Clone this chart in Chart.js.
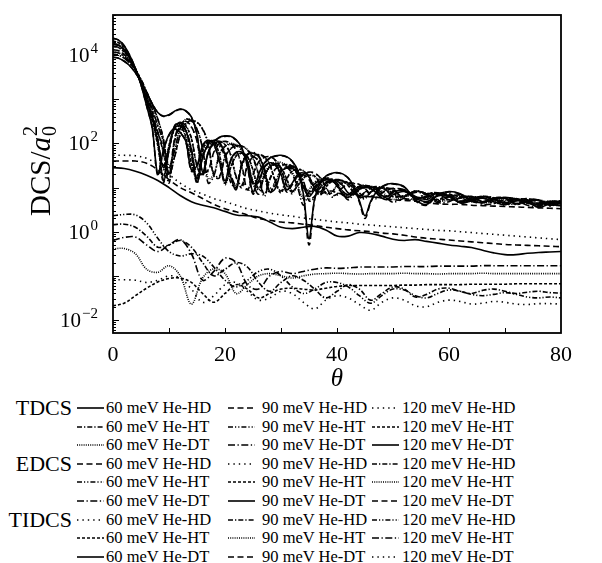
<!DOCTYPE html>
<html>
<head>
<meta charset="utf-8">
<script src="https://cdn.jsdelivr.net/npm/chart.js@4.4.1/dist/chart.umd.min.js"></script>
<style>
  body { margin: 0; background: #fff; }
  #wrap { position: relative; width: 602px; height: 563px; font-family: 'Liberation Serif', 'DejaVu Serif', serif; color: #000; }
  #grafico { position: absolute; left: 0; top: 0; }
  .grupo { position: absolute; width: 72px; text-align: right; font-size: 22px; line-height: 24px; white-space: nowrap; }
  .item { position: absolute; font-size: 16.5px; line-height: 20px; white-space: nowrap; }
  .amostra { position: absolute; }
</style>
</head>
<body>
<div id="wrap">
  <canvas id="grafico" width="602" height="395"></canvas>
  <div id="legenda"></div>
</div>
<script>
// angulos (graus)
const thetaFine = [0,1,2,3,4,5,6,7,8,9,10,11,12,13,14,15,16,17,18,19,20,21,22,23,24,25,26,27,28,29,30,
  31,32,33,34,35,36,37,38,39,40,41,42,43,44,45,46,47,48,49,50,
  52,54,56,58,60,62,64,66,68,70,72,74,76,78,80];
const thetaStep2 = [0,2,4,6,8,10,12,14,16,18,20,22,24,26,28,30,32,34,36,38,40,
  42,44,46,48,50,52,54,56,58,60,62,64,66,68,70,72,74,76,78,80];

const tdcs60HD = [3.95,3.93,3.86,3.76,3.6,3.4,3.15,2.9,2.7,2.62,
  2.65,2.73,2.78,2.74,2.6,2.2,1.35,1.8,2.03,2.14,
  2.17,2.16,2.08,1.9,1.5,0.9,1.3,1.55,1.67,1.72,
  1.73,1.7,1.6,1.38,0.85,-0.16,0.75,1.1,1.26,1.32,
  1.34,1.31,1.22,1.02,0.7,0.36,0.68,0.9,1.02,1.08,
  1.09,
  1.02,0.72,0.62,0.84,0.91,0.86,0.7,0.66,0.74,0.78,0.74,0.66,0.65,0.68,0.68];
const tdcs60HT = [4.02,4.0,3.93,3.82,3.66,3.45,3.17,2.88,2.55,2.1,
  1.3,1.7,2.2,2.45,2.52,2.48,2.33,2.0,1.3,1.25,
  1.7,1.88,1.95,1.94,1.86,1.68,1.3,0.85,1.2,1.42,
  1.5,1.52,1.5,1.4,1.15,0.75,0.8,1.0,1.12,1.17,
  1.18,1.16,1.1,0.98,0.8,0.78,0.9,0.97,1.0,0.99,
  0.95,
  0.76,0.75,0.86,0.88,0.8,0.68,0.74,0.8,0.77,0.66,0.64,0.73,0.72,0.62,0.6];
const tdcs60DT = [4.07,4.05,3.97,3.85,3.67,3.43,3.12,2.78,2.4,2.05,
  1.5,1.85,2.35,2.55,2.52,2.33,1.9,1.2,1.3,1.75,
  1.95,2.0,1.97,1.85,1.6,1.15,0.95,1.3,1.5,1.57,
  1.57,1.5,1.35,1.05,0.75,0.95,1.12,1.2,1.22,1.19,
  1.1,0.92,0.8,0.9,0.99,1.03,1.03,1.0,0.92,0.8,
  0.73,
  0.8,0.92,0.86,0.7,0.72,0.82,0.78,0.66,0.68,0.76,0.74,0.64,0.61,0.68,0.7];
const tdcs90HD = [4.12,4.1,4.01,3.87,3.67,3.41,3.08,2.7,2.25,1.9,
  1.3,2.1,2.45,2.5,2.38,2.05,1.35,1.4,1.8,2.0,
  2.05,2.0,1.85,1.5,0.95,1.3,1.58,1.68,1.7,1.62,
  1.42,1.05,0.9,1.15,1.3,1.35,1.33,1.22,1.02,0.82,
  0.85,1.0,1.08,1.1,1.07,0.98,0.84,0.78,0.88,0.95,
  0.98,
  0.95,0.76,0.78,0.88,0.82,0.67,0.74,0.8,0.74,0.62,0.7,0.75,0.68,0.6,0.66];
const tdcs90HT = [4.2,4.17,4.07,3.91,3.68,3.38,3.02,2.62,2.1,1.15,
  1.85,2.35,2.48,2.4,2.12,1.5,1.3,1.8,2.0,2.05,
  1.98,1.75,1.25,1.05,1.5,1.7,1.75,1.7,1.52,1.15,
  0.92,1.2,1.38,1.42,1.38,1.25,1.0,0.86,1.02,1.14,
  1.18,1.15,1.05,0.9,0.8,0.9,0.99,1.02,1.0,0.92,
  0.8,
  0.82,0.92,0.86,0.7,0.8,0.84,0.74,0.68,0.77,0.76,0.63,0.68,0.72,0.65,0.6];
const tdcs90DT = [4.25,4.22,4.11,3.93,3.68,3.36,2.98,2.58,2.05,1.5,
  1.9,2.4,2.47,2.3,1.88,1.2,1.7,2.0,2.08,2.02,
  1.78,1.3,1.05,1.55,1.76,1.8,1.72,1.45,1.0,1.05,
  1.38,1.47,1.47,1.35,1.08,0.9,1.0,1.15,1.21,1.2,
  1.1,0.92,0.84,0.95,1.03,1.05,1.02,0.93,0.82,0.79,
  0.88,
  0.95,0.8,0.73,0.85,0.86,0.7,0.74,0.8,0.72,0.66,0.74,0.72,0.6,0.67,0.7];
const tdcs120HD = [4.26,4.23,4.12,3.94,3.68,3.35,2.96,2.55,2.25,1.8,
  1.15,2.05,2.38,2.3,1.75,1.15,1.7,1.95,2.02,1.95,
  1.7,1.15,1.05,1.5,1.7,1.72,1.6,1.3,0.92,1.15,
  1.38,1.45,1.43,1.3,1.02,0.86,1.02,1.15,1.2,1.17,
  1.05,0.85,0.84,0.96,1.03,1.05,1.0,0.9,0.78,0.82,
  0.92,
  0.94,0.78,0.76,0.88,0.8,0.69,0.78,0.78,0.65,0.7,0.75,0.66,0.62,0.7,0.66];
const tdcs120HT = [4.32,4.28,4.16,3.96,3.69,3.34,2.93,2.5,1.95,1.25,
  1.95,2.35,2.4,2.15,1.55,1.25,1.85,2.05,2.02,1.75,
  1.1,1.45,1.72,1.78,1.7,1.4,0.98,1.25,1.47,1.52,
  1.45,1.2,0.92,1.05,1.22,1.28,1.26,1.1,0.88,0.88,
  1.05,1.11,1.12,1.05,0.88,0.8,0.9,0.98,1.0,0.97,
  0.86,
  0.8,0.92,0.85,0.73,0.84,0.78,0.69,0.79,0.74,0.65,0.74,0.72,0.6,0.68,0.69];
const tdcs120DT = [4.38,4.34,4.21,3.99,3.7,3.33,2.85,2.35,1.3,1.85,
  2.2,2.33,2.25,2.05,1.4,1.5,1.95,2.07,1.98,1.6,
  1.15,1.62,1.8,1.8,1.6,1.1,1.15,1.47,1.56,1.52,
  1.3,0.95,1.1,1.3,1.33,1.24,1.0,0.9,1.08,1.15,
  1.15,1.05,0.88,0.84,0.96,1.01,1.02,0.95,0.82,0.8,
  0.9,
  0.93,0.76,0.8,0.86,0.72,0.76,0.8,0.68,0.72,0.76,0.63,0.7,0.71,0.6,0.66];

const edcs60HD = [3.95,3.93,3.86,3.76,3.6,3.4,3.15,2.9,2.7,2.61,
  2.64,2.72,2.77,2.73,2.59,2.18,1.3,1.78,2.02,2.13,
  2.16,2.15,2.07,1.89,1.47,0.85,1.28,1.54,1.66,1.71,
  1.72,1.69,1.59,1.36,0.8,-0.3,0.72,1.09,1.25,1.31,
  1.33,1.3,1.21,1.0,0.67,0.3,0.66,0.89,1.01,1.07,
  1.08,
  1.01,0.7,0.6,0.83,0.9,0.85,0.69,0.65,0.73,0.77,0.73,0.65,0.64,0.67,0.67];
const edcs60HT = [4.02,4.0,3.93,3.82,3.66,3.45,3.17,2.88,2.55,2.09,
  1.27,1.69,2.19,2.44,2.51,2.47,2.32,1.98,1.26,1.22,
  1.69,1.87,1.94,1.93,1.85,1.66,1.27,0.8,1.18,1.41,
  1.49,1.51,1.49,1.39,1.13,0.7,0.77,0.99,1.11,1.16,
  1.17,1.15,1.09,0.97,0.78,0.75,0.89,0.96,0.99,0.98,
  0.94,
  0.75,0.73,0.85,0.87,0.79,0.66,0.73,0.79,0.76,0.65,0.62,0.72,0.71,0.61,0.59];
const edcs60DT = [4.07,4.05,3.97,3.85,3.67,3.43,3.12,2.78,2.4,2.04,
  1.45,1.84,2.34,2.54,2.51,2.32,1.88,1.1,1.26,1.73,
  1.93,1.98,1.95,1.83,1.57,1.1,0.85,1.26,1.47,1.54,
  1.54,1.47,1.31,0.99,0.6,0.9,1.08,1.17,1.19,1.16,
  1.06,0.87,0.72,0.86,0.96,1.0,1.0,0.97,0.88,0.75,
  0.67,
  0.76,0.89,0.83,0.66,0.68,0.79,0.75,0.62,0.64,0.73,0.71,0.6,0.57,0.65,0.67];
const edcs90HD = [4.12,4.1,4.01,3.87,3.67,3.41,3.08,2.7,2.25,1.88,
  1.26,2.09,2.44,2.49,2.37,2.04,1.32,1.37,1.79,1.99,
  2.04,1.99,1.84,1.48,0.9,1.28,1.57,1.67,1.69,1.61,
  1.41,1.03,0.86,1.13,1.29,1.34,1.32,1.21,1.0,0.79,
  0.83,0.99,1.07,1.09,1.06,0.97,0.82,0.75,0.87,0.94,
  0.97,
  0.94,0.74,0.77,0.87,0.81,0.65,0.73,0.79,0.73,0.6,0.69,0.74,0.67,0.58,0.65];
const edcs90HT = [4.2,4.17,4.07,3.91,3.68,3.38,3.02,2.62,2.1,1.12,
  1.84,2.34,2.47,2.39,2.11,1.48,1.27,1.79,1.99,2.04,
  1.97,1.74,1.23,1.0,1.49,1.69,1.74,1.69,1.51,1.13,
  0.88,1.19,1.37,1.41,1.37,1.24,0.98,0.83,1.01,1.13,
  1.17,1.14,1.04,0.89,0.78,0.89,0.98,1.01,0.99,0.91,
  0.79,
  0.81,0.91,0.85,0.69,0.79,0.83,0.73,0.67,0.76,0.75,0.62,0.67,0.71,0.64,0.59];
const edcs90DT = [4.25,4.22,4.11,3.93,3.68,3.36,2.98,2.58,2.05,1.45,
  1.88,2.39,2.46,2.29,1.86,1.12,1.68,1.98,2.07,2.01,
  1.76,1.25,0.95,1.52,1.74,1.78,1.7,1.42,0.9,0.98,
  1.35,1.44,1.44,1.31,1.02,0.8,0.95,1.11,1.17,1.16,
  1.05,0.86,0.77,0.9,0.99,1.01,0.98,0.88,0.76,0.73,
  0.84,
  0.91,0.76,0.68,0.81,0.82,0.65,0.7,0.76,0.68,0.61,0.7,0.68,0.55,0.63,0.66];
const edcs120HD = [4.26,4.23,4.12,3.94,3.68,3.35,2.96,2.55,2.25,1.78,
  1.1,2.04,2.37,2.29,1.73,1.1,1.69,1.94,2.01,1.94,
  1.69,1.12,1.0,1.49,1.69,1.71,1.59,1.28,0.88,1.14,
  1.37,1.44,1.42,1.29,1.0,0.83,1.01,1.14,1.19,1.16,
  1.04,0.83,0.82,0.95,1.02,1.04,0.99,0.89,0.76,0.81,
  0.91,
  0.93,0.77,0.75,0.87,0.79,0.68,0.77,0.77,0.64,0.69,0.74,0.65,0.61,0.69,0.65];
const edcs120HT = [4.32,4.28,4.16,3.96,3.69,3.34,2.93,2.5,1.95,1.22,
  1.94,2.34,2.39,2.14,1.53,1.21,1.84,2.04,2.01,1.74,
  1.07,1.44,1.71,1.77,1.69,1.39,0.95,1.24,1.46,1.51,
  1.44,1.19,0.89,1.04,1.21,1.27,1.25,1.09,0.86,0.87,
  1.04,1.1,1.11,1.04,0.87,0.79,0.89,0.97,0.99,0.96,
  0.85,
  0.79,0.91,0.84,0.72,0.83,0.77,0.68,0.78,0.73,0.64,0.73,0.71,0.59,0.67,0.68];
const edcs120DT = [4.38,4.34,4.21,3.99,3.7,3.33,2.85,2.35,1.27,1.83,
  2.18,2.32,2.24,2.04,1.37,1.47,1.94,2.06,1.97,1.58,
  1.1,1.6,1.79,1.79,1.59,1.05,1.12,1.45,1.54,1.5,
  1.27,0.9,1.06,1.26,1.29,1.18,0.95,0.86,0.9,0.92,
  0.88,0.85,0.84,0.84,0.82,0.8,0.79,0.78,0.77,0.74,
  0.72,
  0.71,0.69,0.66,0.63,0.62,0.62,0.6,0.59,0.58,0.57,0.56,0.55,0.54,0.53,0.52];

const tidcs60HD = [-1.09,-1.09,-1.1,-1.15,-1.1,-1.0,-1.05,-1.3,-1.6,-1.45,
  -1.2,-1.15,-1.35,-1.55,-1.5,-1.35,-1.4,-1.6,-1.75,-1.55,
  -1.45,-1.5,-1.65,-1.78,-1.6,-1.5,-1.55,-1.68,-1.7,-1.6,
  -1.55,-1.58,-1.64,-1.62,-1.58,-1.6,-1.64,-1.65,-1.63,-1.63,
  -1.64];
const tidcs60HT = [-1.68,-1.62,-1.45,-1.28,-1.14,-1.06,-1.05,-1.15,-1.4,-1.6,
  -1.4,-1.2,-1.3,-1.5,-1.4,-1.3,-1.28,-1.3,-1.32,-1.28,
  -1.24,-1.22,-1.22,-1.22,-1.22,-1.22,-1.21,-1.21,-1.2,-1.2,
  -1.2,-1.2,-1.19,-1.19,-1.19,-1.19,-1.18,-1.18,-1.18,-1.18,
  -1.18];
const tidcs60DT = [1.45,1.43,1.37,1.28,1.16,1.0,0.82,0.68,0.6,0.54,
  0.46,0.38,0.36,0.33,0.22,0.1,0.07,0.1,0.12,0.04,
  -0.1,-0.1,-0.02,-0.04,-0.1,-0.17,-0.2,-0.18,-0.22,-0.26,
  -0.3,-0.33,-0.36,-0.42,-0.48,-0.52,-0.52,-0.49,-0.47,-0.46,
  -0.45];
const tidcs90HD = [0.16,0.17,0.1,-0.1,-0.35,-0.3,-0.2,-0.35,-0.7,-1.0,
  -0.85,-0.7,-0.8,-1.15,-1.35,-1.15,-1.0,-1.1,-1.3,-1.5,
  -1.35,-1.2,-1.3,-1.55,-1.4,-1.25,-1.3,-1.48,-1.42,-1.3,
  -1.28,-1.35,-1.4,-1.33,-1.3,-1.35,-1.4,-1.37,-1.35,-1.38,
  -1.39];
const tidcs90HT = [-0.39,-0.38,-0.5,-0.85,-0.92,-0.77,-1.0,-1.64,-1.05,-0.84,
  -0.95,-1.4,-1.2,-1.0,-0.95,-1.0,-1.05,-1.0,-0.96,-0.95,
  -0.94,-0.95,-0.96,-0.95,-0.95,-0.95,-0.94,-0.95,-0.95,-0.96,
  -0.95,-0.95,-0.95,-0.94,-0.95,-0.95,-0.95,-0.95,-0.95,-0.95,
  -0.95];
const tidcs90DT = [1.6,1.6,1.6,1.55,1.4,1.18,1.0,0.88,0.75,0.62,
  0.52,0.45,0.38,0.3,0.26,0.22,0.2,0.17,0.14,0.1,
  0.07,0.04,0.02,0.0,-0.03,-0.05,-0.08,-0.12,-0.15,-0.17,
  -0.19,-0.21,-0.23,-0.25,-0.27,-0.29,-0.3,-0.31,-0.32,-0.33,
  -0.34];
const tidcs120HD = [0.36,0.39,0.38,0.2,-0.15,-0.45,-0.55,-0.5,-0.55,-0.8,
  -1.1,-1.25,-1.1,-0.9,-0.85,-1.0,-1.25,-1.4,-1.3,-1.15,
  -1.15,-1.25,-1.45,-1.62,-1.45,-1.3,-1.32,-1.45,-1.5,-1.4,
  -1.32,-1.35,-1.42,-1.45,-1.42,-1.38,-1.42,-1.48,-1.5,-1.48,
  -1.5];
const tidcs120HT = [-0.2,-0.13,-0.12,-0.3,-0.45,-0.3,-0.18,-0.5,-1.1,-0.9,
  -0.6,-0.7,-1.2,-1.3,-1.0,-0.9,-0.95,-0.9,-0.85,-0.82,
  -0.83,-0.82,-0.8,-0.8,-0.8,-0.8,-0.79,-0.79,-0.79,-0.78,
  -0.78,-0.78,-0.78,-0.77,-0.77,-0.77,-0.77,-0.77,-0.77,-0.77,
  -0.77];
const tidcs120DT = [1.73,1.73,1.72,1.66,1.52,1.3,1.1,0.95,0.85,0.75,
  0.68,0.6,0.52,0.47,0.42,0.38,0.35,0.31,0.28,0.25,
  0.22,0.2,0.17,0.15,0.13,0.11,0.09,0.07,0.05,0.03,
  0.02,0.0,-0.02,-0.04,-0.06,-0.08,-0.1,-0.12,-0.14,-0.16,
  -0.18];

const grupos = ['TDCS', 'EDCS', 'TIDCS'];
const energias = ['60', '90', '120'];
const isotopos = ['He-HD', 'He-HT', 'He-DT'];

const series = [
  [tdcs60HD, tdcs60HT, tdcs60DT, tdcs90HD, tdcs90HT, tdcs90DT, tdcs120HD, tdcs120HT, tdcs120DT],
  [edcs60HD, edcs60HT, edcs60DT, edcs90HD, edcs90HT, edcs90DT, edcs120HD, edcs120HT, edcs120DT],
  [tidcs60HD, tidcs60HT, tidcs60DT, tidcs90HD, tidcs90HT, tidcs90DT, tidcs120HD, tidcs120HT, tidcs120DT]
];
const thetaGrupo = [thetaFine, thetaFine, thetaStep2];

const tracos = {
  solid: [],
  dashdot: [5, 2, 1.3, 2],
  finedot: [1, 1.2],
  dashed: [6, 3.5],
  dashdotdot: [5, 2, 1.2, 2, 1.2, 2],
  dashdot2: [7, 2.5, 1.3, 2.5],
  sparsedot: [1.4, 4],
  shortdash: [3, 2]
};
const estilos = [
  'solid', 'dashdot', 'finedot', 'dashed', 'dashdotdot', 'dashdot2', 'sparsedot', 'shortdash', 'solid',
  'dashed', 'dashdotdot', 'dashdot2', 'sparsedot', 'shortdash', 'solid', 'dashdot', 'finedot', 'dashed',
  'sparsedot', 'shortdash', 'solid', 'dashdot', 'finedot', 'dashed', 'dashdotdot', 'dashdot2', 'sparsedot'
];

const serif = "'Liberation Serif', 'DejaVu Serif', serif";

const datasets = [];
series.forEach((lista, g) => {
  lista.forEach((valores, j) => {
    const k = g * 9 + j;
    const th = thetaGrupo[g];
    datasets.push({
      label: `${grupos[g]} ${energias[Math.floor(j / 3)]} meV ${isotopos[j % 3]}`,
      data: valores.map((v, i) => ({ x: th[i], y: Math.pow(10, v) })),
      borderColor: '#000',
      borderWidth: 1.6,
      borderDash: tracos[estilos[k]],
      pointRadius: 0,
      tension: 0.35,
      fill: false
    });
  });
});

// moldura, marcas para dentro, rotulos do eixo y
const moldura = {
  id: 'moldura',
  afterDatasetsDraw(chart) {
    const { ctx, chartArea: a, scales: { x, y } } = chart;
    ctx.save();
    ctx.strokeStyle = '#000';
    ctx.lineWidth = 1.8;
    ctx.strokeRect(a.left, a.top, a.right - a.left, a.bottom - a.top);
    ctx.lineWidth = 1;
    ctx.beginPath();
    for (let t = 10; t < 80; t += 10) {
      const px = Math.round(x.getPixelForValue(t)) + 0.5;
      ctx.moveTo(px, a.bottom);
      ctx.lineTo(px, a.bottom - 5);
    }
    for (let d = -3; d <= 5; d++) {
      for (let m = 1; m <= 9; m++) {
        const v = m * Math.pow(10, d);
        if (v < y.min || v > y.max) continue;
        const py = Math.round(y.getPixelForValue(v)) + 0.5;
        ctx.moveTo(a.left, py);
        ctx.lineTo(a.left + (m === 1 ? 6 : 3), py);
      }
    }
    ctx.stroke();

    ctx.fillStyle = '#000';
    ctx.textBaseline = 'alphabetic';
    [4, 2, 0, -2].forEach(e => {
      const py = y.getPixelForValue(Math.pow(10, e));
      const expo = e < 0 ? '\u2212' + (-e) : String(e);
      ctx.font = '15px ' + serif;
      ctx.textAlign = 'right';
      const we = ctx.measureText(expo).width;
      ctx.fillText(expo, 98, py - 2);
      ctx.font = '21px ' + serif;
      ctx.fillText('10', 98 - we - 1, py + 7);
    });

    // titulo do eixo y: DCS/a0^2
    ctx.translate(50, 171);
    ctx.rotate(-Math.PI / 2);
    ctx.textAlign = 'left';
    ctx.font = '29px ' + serif;
    const w1 = ctx.measureText('DCS/').width;
    ctx.font = 'italic 29px ' + serif;
    const w2 = ctx.measureText('a').width;
    ctx.font = '20px ' + serif;
    const w3 = ctx.measureText('2').width;
    const x0 = -(w1 + w2 + w3 + 1) / 2;
    ctx.font = '29px ' + serif;
    ctx.fillText('DCS/', x0, 0);
    ctx.font = 'italic 29px ' + serif;
    ctx.fillText('a', x0 + w1, 0);
    ctx.font = '20px ' + serif;
    ctx.fillText('0', x0 + w1 + w2 + 1, 6);
    ctx.fillText('2', x0 + w1 + w2 + 1, -13);
    ctx.restore();
  }
};

const grafico = new Chart(document.getElementById('grafico'), {
  type: 'line',
  data: { datasets },
  options: {
    responsive: false,
    animation: false,
    layout: { padding: { top: 15, right: 41, left: 0, bottom: 0 } },
    plugins: { legend: { display: false }, tooltip: { enabled: false } },
    scales: {
      x: {
        type: 'linear',
        min: 0,
        max: 80,
        grid: { display: false },
        border: { display: false },
        ticks: {
          stepSize: 10,
          autoSkip: false,
          maxRotation: 0,
          padding: 1,
          color: '#000',
          font: { family: serif, size: 22 },
          callback: v => (v % 20 === 0 ? String(v) : '')
        },
        title: {
          display: true,
          text: 'θ',
          color: '#000',
          font: { family: serif, size: 25, style: 'italic' },
          padding: { top: 0, bottom: 1 }
        },
        afterFit: s => { s.height = 62; }
      },
      y: {
        type: 'logarithmic',
        min: 0.00507,
        max: 81000,
        grid: { display: false },
        border: { display: false },
        ticks: { display: false },
        afterFit: s => { s.width = 113; }
      }
    }
  },
  plugins: [moldura]
});

// legenda em tres colunas, agrupada por TDCS / EDCS / TIDCS
const legenda = document.getElementById('legenda');
const colAmostra = [77, 228, 372];
const colTexto = [106, 262, 402];
const linhaY = R => 408 + R * 18.6;

grupos.forEach((nome, g) => {
  const div = document.createElement('div');
  div.className = 'grupo';
  div.style.left = '0px';
  div.style.top = (linhaY(g * 3) - 12) + 'px';
  div.textContent = nome;
  legenda.appendChild(div);
});

grafico.data.datasets.forEach((ds, k) => {
  const g = Math.floor(k / 9), j = k % 9;
  const c = Math.floor(j / 3), r = j % 3;
  const yc = linhaY(g * 3 + r);
  const svg = document.createElementNS('http://www.w3.org/2000/svg', 'svg');
  svg.setAttribute('class', 'amostra');
  svg.setAttribute('width', '27');
  svg.setAttribute('height', '8');
  svg.style.left = colAmostra[c] + 'px';
  svg.style.top = (yc - 4) + 'px';
  const ln = document.createElementNS('http://www.w3.org/2000/svg', 'line');
  ln.setAttribute('x1', '0'); ln.setAttribute('x2', '27');
  ln.setAttribute('y1', '4'); ln.setAttribute('y2', '4');
  ln.setAttribute('stroke', '#000');
  ln.setAttribute('stroke-width', '1.6');
  if (ds.borderDash.length) ln.setAttribute('stroke-dasharray', ds.borderDash.join(' '));
  svg.appendChild(ln);
  legenda.appendChild(svg);

  const txt = document.createElement('div');
  txt.className = 'item';
  txt.style.left = colTexto[c] + 'px';
  txt.style.top = (yc - 10) + 'px';
  txt.textContent = `${energias[c]} meV ${isotopos[r]}`;
  legenda.appendChild(txt);
});
</script>
</body>
</html>
